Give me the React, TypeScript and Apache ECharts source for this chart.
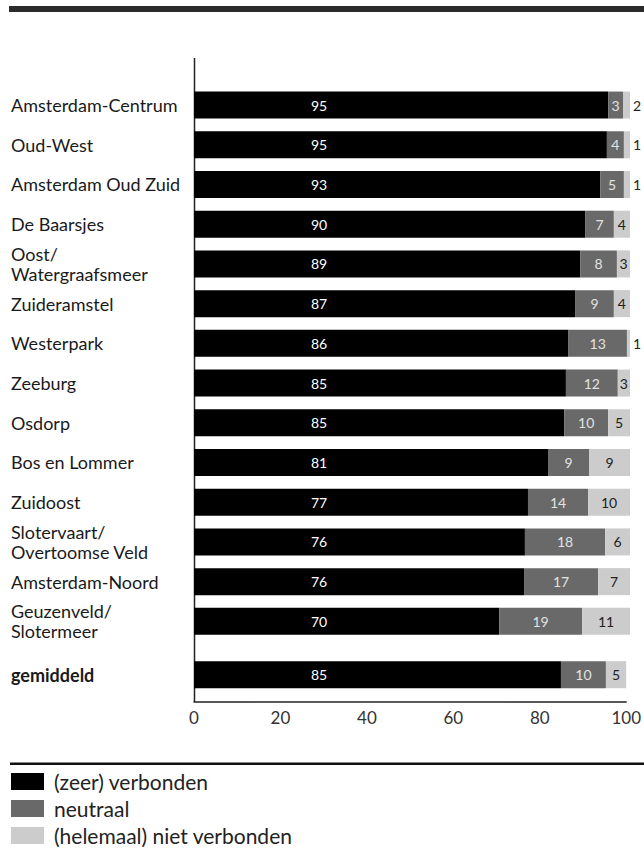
import React, { useEffect, useRef } from "react";
import * as echarts from "echarts";

const districts = [
  "Amsterdam-Centrum",
  "Oud-West",
  "Amsterdam Oud Zuid",
  "De Baarsjes",
  "Oost/\nWatergraafsmeer",
  "Zuideramstel",
  "Westerpark",
  "Zeeburg",
  "Osdorp",
  "Bos en Lommer",
  "Zuidoost",
  "Slotervaart/\nOvertoomse Veld",
  "Amsterdam-Noord",
  "Geuzenveld/\nSlotermeer",
];
const zeerVerbonden = [95.0, 94.7, 93.2, 89.7, 88.6, 87.4, 85.9, 85.3, 84.9, 81.2, 76.6, 75.9, 75.7, 70.0];
const neutraal = [3.4, 3.9, 5.4, 6.6, 8.4, 8.9, 13.4, 11.9, 10.1, 9.4, 13.8, 18.4, 17.0, 19.0];
const nietVerbonden = [1.6, 1.4, 1.4, 3.7, 3.0, 3.7, 0.7, 2.8, 5.0, 9.4, 9.6, 5.7, 7.3, 11.0];

const avgCategory = ["gemiddeld"];
const avgZeer = [84.9];
const avgNeutraal = [10.4];
const avgNiet = [4.7];

const xTicks = { min: 0, max: 100, interval: 20 };
const seriesNames = ["(zeer) verbonden", "neutraal", "(helemaal) niet verbonden"];
const colors = ["#000000", "#696969", "#cccccc"];

const FONT = "Lato, 'Noto Sans', sans-serif";

export default function App() {
  const ref = useRef<HTMLDivElement>(null);
  useEffect(() => {
    if (!ref.current) return;
    const chart = echarts.init(ref.current, null, { renderer: "svg" });
    const round = (p: any) => String(Math.round(p.value));
    const lightData = (arr: number[]) =>
      arr.map((v) =>
        v < 2
          ? { value: v, label: { position: "right", distance: 3, color: "#222" } }
          : { value: v }
      );
    const makeSeries = (gi: number, z: number[], n: number[], l: number[]) => [
      {
        name: seriesNames[0],
        type: "bar",
        stack: "s" + gi,
        xAxisIndex: gi,
        yAxisIndex: gi,
        barWidth: 27,
        itemStyle: { color: colors[0] },
        data: z,
        label: {
          show: true,
          position: [125, "50%"],
          align: "center",
          verticalAlign: "middle",
          color: "#ffffff",
          fontSize: 14,
          fontFamily: FONT,
          formatter: round,
        },
      },
      {
        name: seriesNames[1],
        type: "bar",
        stack: "s" + gi,
        xAxisIndex: gi,
        yAxisIndex: gi,
        barWidth: 27,
        itemStyle: { color: colors[1] },
        data: n,
        label: {
          show: true,
          position: "inside",
          color: "#e2e2e2",
          fontSize: 14,
          fontFamily: FONT,
          formatter: round,
        },
      },
      {
        name: seriesNames[2],
        type: "bar",
        stack: "s" + gi,
        xAxisIndex: gi,
        yAxisIndex: gi,
        barWidth: 27,
        itemStyle: { color: colors[2] },
        data: lightData(l),
        label: {
          show: true,
          position: "inside",
          color: "#222",
          fontSize: 14,
          fontFamily: FONT,
          formatter: round,
        },
      },
    ];
    const catLabel = {
      align: "left",
      margin: 183,
      fontSize: 18,
      color: "#1a1a1a",
      fontFamily: FONT,
      lineHeight: 20,
    };
    chart.setOption({
      animation: false,
      textStyle: { fontFamily: FONT },
      grid: [
        { left: 194, right: 14, top: 85.2, height: 556 },
        { left: 194, right: 14, top: 647.4, height: 54.6 },
      ],
      xAxis: [
        { gridIndex: 0, type: "value", ...xTicks, show: false },
        {
          gridIndex: 1,
          type: "value",
          ...xTicks,
          axisLine: { show: true, lineStyle: { color: "#222", width: 1.5 } },
          axisTick: { show: false },
          splitLine: { show: false },
          axisLabel: { fontSize: 17, color: "#333", margin: 7, fontFamily: FONT },
        },
      ],
      yAxis: [
        {
          gridIndex: 0,
          type: "category",
          inverse: true,
          data: districts,
          axisLine: { show: false },
          axisTick: { show: false },
          axisLabel: catLabel,
        },
        {
          gridIndex: 1,
          type: "category",
          inverse: true,
          data: avgCategory,
          axisLine: { show: false },
          axisTick: { show: false },
          axisLabel: { ...catLabel, fontWeight: "bold" },
        },
      ],
      legend: {
        orient: "vertical",
        left: 11,
        top: 771,
        height: 100,
        padding: 0,
        itemWidth: 33,
        itemHeight: 17,
        itemGap: 6,
        icon: "rect",
        data: seriesNames,
        textStyle: {
          fontSize: 21,
          lineHeight: 21,
          color: "#222",
          fontFamily: FONT,
          padding: [0, 0, 0, 5],
        },
        selectedMode: false,
      },
      graphic: [
        { type: "rect", shape: { x: 9, y: 6, width: 640, height: 6 }, style: { fill: "#2b2b2b" } },
        { type: "line", shape: { x1: 194.5, y1: 58, x2: 194.5, y2: 702 }, style: { stroke: "#222", lineWidth: 1.5 } },
        { type: "rect", shape: { x: 10, y: 762.5, width: 640, height: 2.5 }, style: { fill: "#111" } },
      ],
      series: [
        ...makeSeries(0, zeerVerbonden, neutraal, nietVerbonden),
        ...makeSeries(1, avgZeer, avgNeutraal, avgNiet),
      ],
    });
    return () => chart.dispose();
  }, []);
  return (
    <div
      ref={ref}
      style={{ position: "absolute", left: 0, top: 0, width: 644, height: 850 }}
    />
  );
}
